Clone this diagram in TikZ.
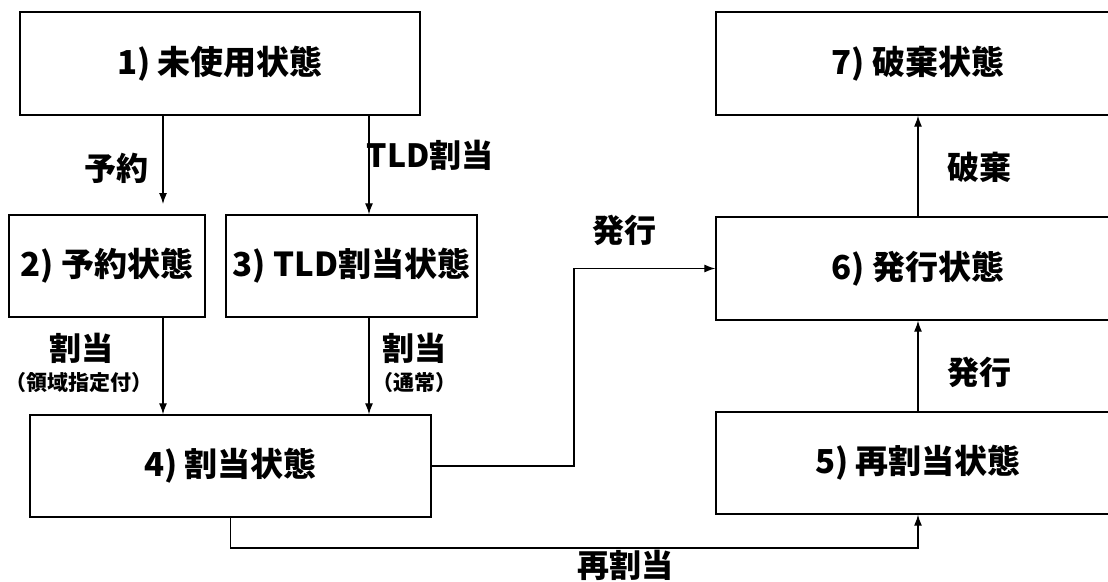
\documentclass[tikz,border=0pt]{standalone}
\usepackage{fontspec}
\setmainfont{Noto Sans CJK JP}
\usetikzlibrary{arrows.meta}
\newcommand{\boxfont}{\fontsize{33}{38}\selectfont\bfseries}
\newcommand{\edgefont}{\fontsize{32}{36}\selectfont\bfseries}
\newcommand{\notefont}{\fontsize{21}{24}\selectfont\bfseries}
\tikzset{
  state/.style={draw, line width=1.4pt, inner sep=0pt, font=\boxfont},
  trans/.style={-{Latex[length=11pt,width=8pt]}, line width=1.2pt},
  tlabel/.style={font=\edgefont, inner sep=0pt},
  tnote/.style={font=\notefont, inner sep=0pt}
}
\begin{document}
\begin{tikzpicture}[x=1pt, y=-1pt]
  \useasboundingbox (0,0) rectangle (1108,581);
  \clip (0,0) rectangle (1108,581);

  \node[state, minimum width=400pt, minimum height=103pt] (unused) at (220,63.5) {1) 未使用状態};
  \node[state, minimum width=196pt, minimum height=102pt] (reserved) at (107,266) {2) 予約状態};
  \node[state, minimum width=251pt, minimum height=102pt] (tld) at (351.5,266) {3) TLD割当状態};
  \node[state, minimum width=401pt, minimum height=102pt] (assigned) at (230.5,466) {4) 割当状態};
  \node[state, minimum width=404pt, minimum height=102pt] (reassigned) at (918,463) {5) 再割当状態};
  \node[state, minimum width=404pt, minimum height=103pt] (issued) at (918,268.5) {6) 発行状態};
  \node[state, minimum width=404pt, minimum height=103pt] (discarded) at (918,63.5) {7) 破棄状態};

  \coordinate (colreserve) at (163,0);
  \coordinate (coltld) at (369,0);
  \coordinate (reserveend) at (163,204);
  \coordinate (issuebend) at (574,268.5);
  \coordinate (reassignbend) at (918,548);

  \draw[trans] (unused.south -| reserveend) -- (reserveend);
  \draw[trans] (unused.south -| coltld) -- (tld.north -| coltld);
  \draw[trans] (reserved.south -| colreserve) -- (assigned.north -| colreserve);
  \draw[trans] (tld.south -| coltld) -- (assigned.north -| coltld);
  \draw[trans] (assigned.east) -| (issuebend) -- (issued.west);
  \draw[trans] (assigned.south) |- (reassignbend) -- (reassigned.south);
  \draw[trans] (reassigned.north) -- (issued.south);
  \draw[trans] (issued.north) -- (discarded.south);

  \node[tlabel] (lreserve) at (116,168) {予約};
  \node[tlabel] (ltld) at (430,155) {TLD割当};
  \node[tlabel] (lassign) at (81,348) {割当};
  \node[tnote] (nassign) at (79,383) {（領域指定付）};
  \node[tlabel] (lnormal) at (414,348) {割当};
  \node[tnote] (nnormal) at (414,383) {（通常）};
  \node[tlabel] (lissue) at (624,230) {発行};
  \node[tlabel] (lreissue) at (979,372) {発行};
  \node[tlabel] (ldiscard) at (979,167) {破棄};
  \node[tlabel] (lreassign) at (625,565) {再割当};
\end{tikzpicture}
\end{document}
